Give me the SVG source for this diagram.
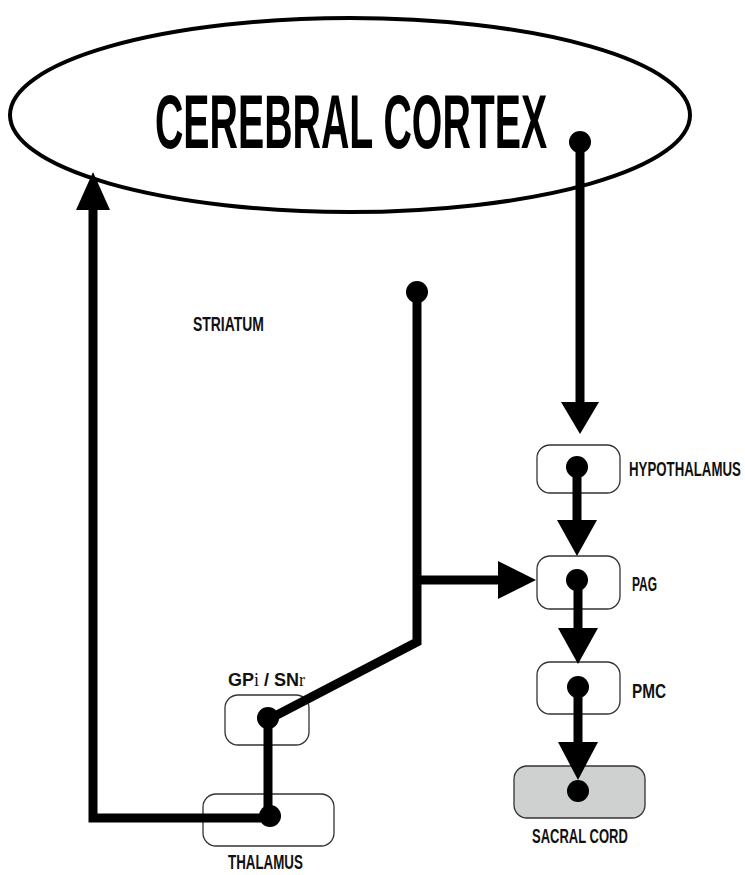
<svg xmlns="http://www.w3.org/2000/svg" width="745" height="875" viewBox="0 0 745 875">
<defs>
<style>
.box{fill:#fff;stroke:#333;stroke-width:1.3}
.lbl{font-family:"Liberation Sans",Arial,sans-serif;font-weight:bold;font-size:20px;fill:#111}
.con{fill:none;stroke:#000;stroke-width:9}
.dot{fill:#000}
.head{fill:#000}
</style>
</defs>
<rect width="745" height="875" fill="#fff"/>
<g id="cortex">
<ellipse cx="350" cy="115" rx="340" ry="97" fill="#fff" stroke="#000" stroke-width="4"/>
<text transform="translate(155,148) scale(0.517,1)" font-family="Liberation Sans,Arial,sans-serif" font-weight="bold" font-size="76" fill="#000">CEREBRAL CORTEX</text>
</g>
<g id="striatum">
<text class="lbl" transform="translate(193,331) scale(0.697,1)">STRIATUM</text>
</g>
<g id="hypothalamus">
<rect class="box" x="537" y="445" width="83" height="48" rx="13"/>
<text class="lbl" transform="translate(629,476) scale(0.663,1)">HYPOTHALAMUS</text>
</g>
<g id="pag">
<rect class="box" x="537" y="556" width="83" height="53" rx="13"/>
<text class="lbl" transform="translate(632,591) scale(0.6,1)">PAG</text>
</g>
<g id="pmc">
<rect class="box" x="537" y="662" width="83" height="52" rx="13"/>
<text class="lbl" transform="translate(632,698) scale(0.766,1)">PMC</text>
</g>
<g id="sacral">
<rect x="514" y="766" width="131" height="52" rx="13" fill="#cfd0d0" stroke="#333" stroke-width="1.3"/>
<text class="lbl" transform="translate(532,843) scale(0.65,1)">SACRAL CORD</text>
</g>
<g id="gpi">
<rect class="box" x="225" y="695" width="84" height="50" rx="13"/>
<text x="228" y="686" font-family="Liberation Sans,Arial,sans-serif" font-weight="bold" font-size="18" fill="#111" textLength="77" lengthAdjust="spacingAndGlyphs">GP<tspan font-family="Liberation Serif,serif" font-weight="normal">i</tspan> / SN<tspan font-family="Liberation Serif,serif" font-weight="normal">r</tspan></text>
</g>
<g id="thalamus">
<rect class="box" x="203" y="794" width="131" height="52" rx="13"/>
<text class="lbl" transform="translate(228,869) scale(0.668,1)">THALAMUS</text>
</g>
<g id="connectors">
<path class="con" d="M580 142 V404"/>
<circle class="dot" cx="580" cy="142" r="11"/>
<polygon class="head" points="561,402 599,402 580,434"/>
<path class="con" d="M577 467 V524"/>
<circle class="dot" cx="577" cy="467" r="11"/>
<polygon class="head" points="557,520 597,520 577,556"/>
<path class="con" d="M578 580 V632"/>
<circle class="dot" cx="577" cy="580" r="11"/>
<polygon class="head" points="558,628 598,628 578,664"/>
<path class="con" d="M578 687 V746"/>
<circle class="dot" cx="578" cy="687" r="11"/>
<polygon class="head" points="558,742 598,742 578,780"/>
<circle class="dot" cx="578" cy="791" r="11"/>
<path class="con" d="M417 292 V642 L275 716"/>
<circle class="dot" cx="417" cy="292" r="11"/>
<path class="con" d="M417 580 H502"/>
<polygon class="head" points="498,561 498,599 536,580"/>
<path class="con" d="M268 718 V815"/>
<circle class="dot" cx="268" cy="718" r="11"/>
<circle class="dot" cx="270" cy="816" r="11"/>
<path class="con" d="M270 818 H93 V206"/>
<polygon class="head" points="76,210 110,210 93,172"/>
</g>
</svg>
